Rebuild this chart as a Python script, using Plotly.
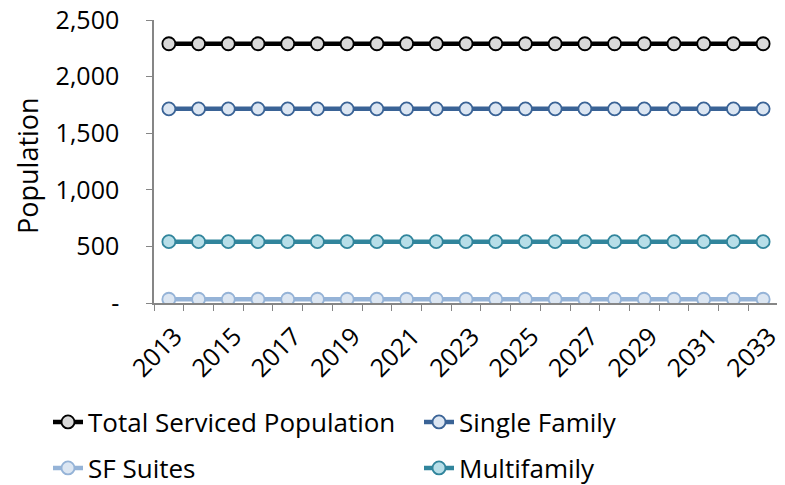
import plotly.graph_objects as go

years = [str(y) for y in range(2013, 2034)]
total = [2290] * 21
single_family = [1715] * 21
sf_suites = [33] * 21
multifamily = [542] * 21
ytick_vals = [0, 500, 1000, 1500, 2000, 2500]
ytick_text = ["-", "500", "1,000", "1,500", "2,000", "2,500"]
xtick_text = [y if (int(y) - 2013) % 2 == 0 else "" for y in years]

TICKFONT = "Open Sans"
TEXTFONT = "Open Sans"
OFF = 8  # page body offset in the screenshot

series = [
    ("Total Serviced Population", total, "#000000", "#d9d9d9", "legend"),
    ("Single Family", single_family, "#3a6396", "#dce6f2", "legend2"),
    ("SF Suites", sf_suites, "#95b3d7", "#dce6f2", "legend3"),
    ("Multifamily", multifamily, "#31859c", "#b7dee8", "legend4"),
]

fig = go.Figure()
for name, vals, lc, fc, lg in series:
    fig.add_trace(go.Scatter(
        x=years, y=vals, name=name, mode="lines+markers", legend=lg,
        line=dict(color=lc, width=4.5),
        marker=dict(size=13, color=fc, line=dict(color=lc, width=1.8)),
    ))

def leg(xpx, ypx):
    return dict(
        xref="container", yref="container",
        x=(xpx - OFF) / 785, y=1 - (ypx - OFF) / 485, xanchor="left", yanchor="middle",
        font=dict(family=TEXTFONT, size=26, color="black"),
        bgcolor="rgba(0,0,0,0)", borderwidth=0,
    )

fig.update_layout(
    width=785, height=485,
    margin=dict(l=154 - OFF, r=7 + OFF, t=20 - OFF, b=182 + OFF, autoexpand=False),
    paper_bgcolor="white", plot_bgcolor="white",
    font=dict(family=TICKFONT, size=25, color="black"),
    showlegend=True,
    legend=leg(48, 422),
    legend2=leg(419, 422),
    legend3=leg(48, 468),
    legend4=leg(419, 468),
    annotations=[dict(
        text="Population", textangle=-90, xref="paper", yref="paper",
        x=-(154 - 27) / 624, y=(303 - 166) / 283, xanchor="center", yanchor="middle",
        showarrow=False, font=dict(family=TEXTFONT, size=27, color="black"),
    )],
)
fig.update_xaxes(
    type="category", categoryorder="array", categoryarray=years,
    range=[-0.5, 20.5],
    tickvals=years, ticktext=xtick_text, tickangle=-45,
    tickson="boundaries", ticks="outside", ticklen=6, tickcolor="#868686",
    showline=True, linecolor="#868686", linewidth=1.5,
    showgrid=False, zeroline=False, automargin=False,
    ticklabelstandoff=7, ticklabelshift=6,
    tickfont=dict(family=TICKFONT, size=25),
)
fig.update_yaxes(
    range=[-0.01, 2500.01], tickvals=ytick_vals, ticktext=ytick_text,
    ticks="outside", ticklen=6, tickcolor="#868686",
    showline=True, linecolor="#868686", linewidth=1.5,
    showgrid=False, zeroline=False, automargin=False,
    ticklabelstandoff=22, ticklabeloverflow="allow",
    tickfont=dict(family=TICKFONT, size=25),
)

fig.write_html("out.html")
